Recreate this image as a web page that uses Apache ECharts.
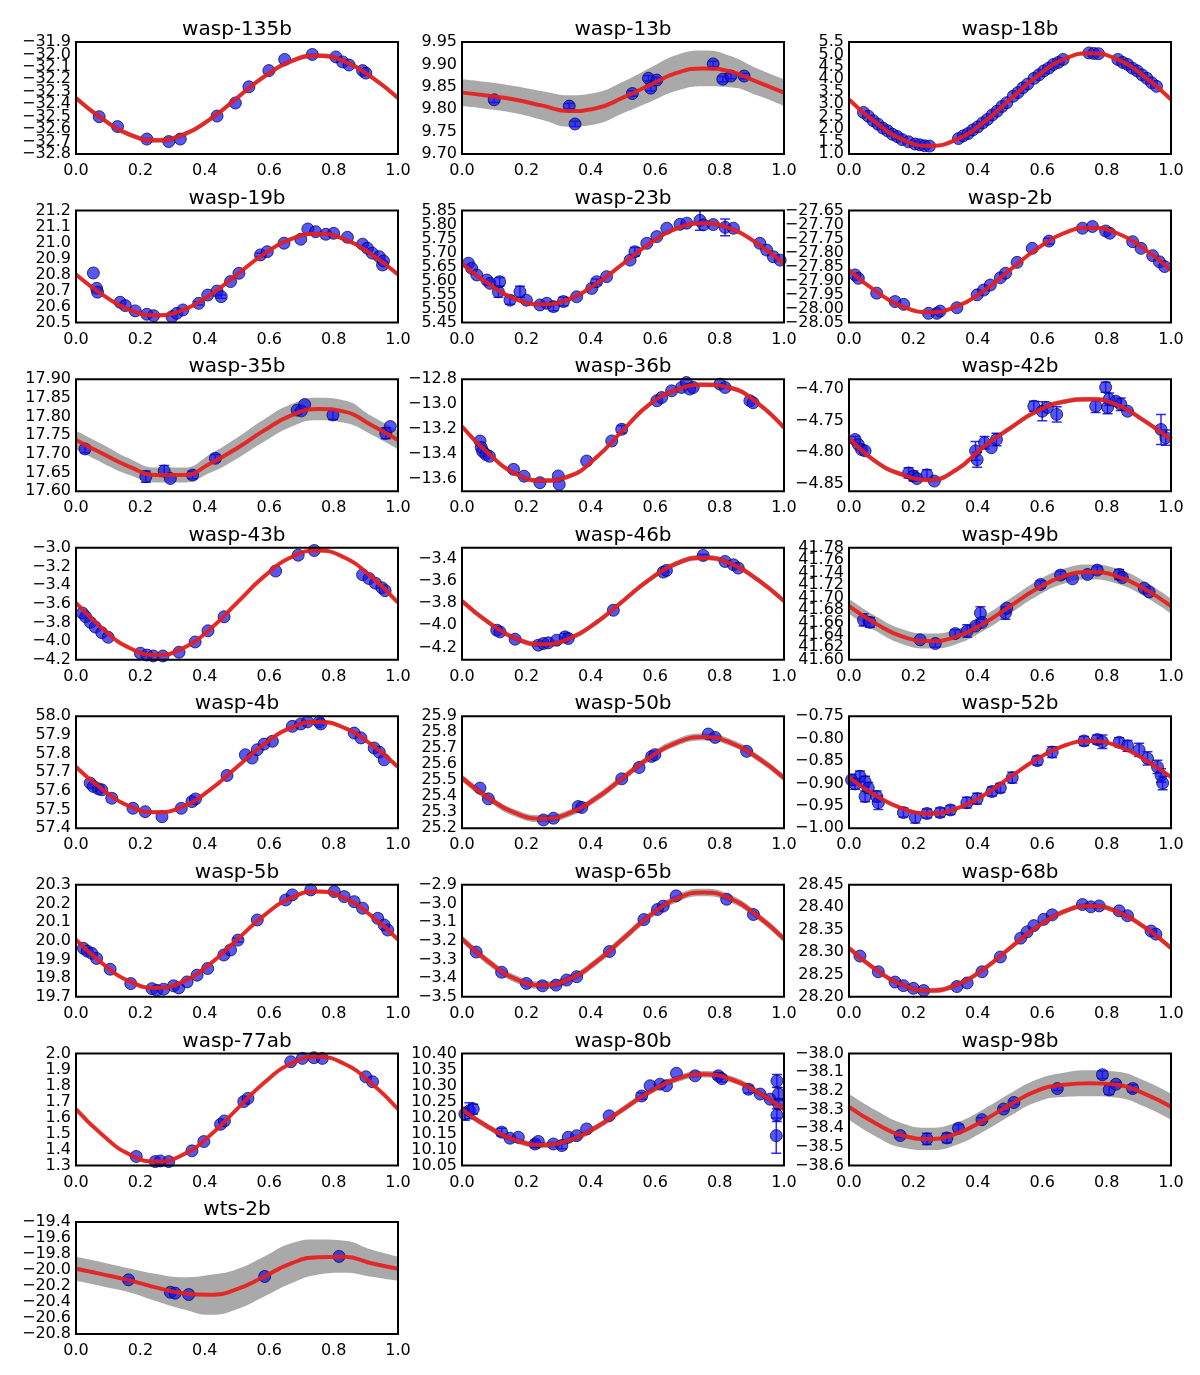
<!DOCTYPE html>
<html>
<head>
<meta charset="utf-8">
<script src="https://cdn.jsdelivr.net/npm/echarts@6/dist/echarts.min.js"></script>
<style>
  html, body { margin: 0; padding: 0; background: #fff; }
  #phase-curves { width: 1200px; height: 1375px; }
</style>
</head>
<body>
<div id="phase-curves"></div>
<script>
// Phase curves: model (red), posterior draws (grey band), observations (blue)
const plotNames = [
  "wasp-135b", "wasp-13b", "wasp-18b",
  "wasp-19b", "wasp-23b", "wasp-2b",
  "wasp-35b", "wasp-36b", "wasp-42b",
  "wasp-43b", "wasp-46b", "wasp-49b",
  "wasp-4b", "wasp-50b", "wasp-52b",
  "wasp-5b", "wasp-65b", "wasp-68b",
  "wasp-77ab", "wasp-80b", "wasp-98b",
  "wts-2b"
];

const yLimits = [
  [-32.8, -31.9], [9.70, 9.95], [1.0, 5.5],
  [20.5, 21.2], [5.45, 5.85], [-28.05, -27.65],
  [17.60, 17.90], [-13.70, -12.80], [-4.862, -4.684],
  [-4.2, -3.0], [-4.31, -3.30], [41.60, 41.78],
  [57.4, 58.0], [25.2, 25.9], [-1.00, -0.75],
  [19.7, 20.3], [-3.5, -2.9], [28.20, 28.45],
  [1.3, 2.0], [10.05, 10.40], [-38.6, -38.0],
  [-20.8, -19.4]
];

const yTicks = [
  [-32.8, -32.7, -32.6, -32.5, -32.4, -32.3, -32.2, -32.1, -32.0, -31.9],
  [9.70, 9.75, 9.80, 9.85, 9.90, 9.95],
  [1.0, 1.5, 2.0, 2.5, 3.0, 3.5, 4.0, 4.5, 5.0, 5.5],
  [20.5, 20.6, 20.7, 20.8, 20.9, 21.0, 21.1, 21.2],
  [5.45, 5.50, 5.55, 5.60, 5.65, 5.70, 5.75, 5.80, 5.85],
  [-28.05, -28.00, -27.95, -27.90, -27.85, -27.80, -27.75, -27.70, -27.65],
  [17.60, 17.65, 17.70, 17.75, 17.80, 17.85, 17.90],
  [-13.6, -13.4, -13.2, -13.0, -12.8],
  [-4.85, -4.80, -4.75, -4.70],
  [-4.2, -4.0, -3.8, -3.6, -3.4, -3.2, -3.0],
  [-4.2, -4.0, -3.8, -3.6, -3.4],
  [41.60, 41.62, 41.64, 41.66, 41.68, 41.70, 41.72, 41.74, 41.76, 41.78],
  [57.4, 57.5, 57.6, 57.7, 57.8, 57.9, 58.0],
  [25.2, 25.3, 25.4, 25.5, 25.6, 25.7, 25.8, 25.9],
  [-1.00, -0.95, -0.90, -0.85, -0.80, -0.75],
  [19.7, 19.8, 19.9, 20.0, 20.1, 20.2, 20.3],
  [-3.5, -3.4, -3.3, -3.2, -3.1, -3.0, -2.9],
  [28.20, 28.25, 28.30, 28.35, 28.40, 28.45],
  [1.3, 1.4, 1.5, 1.6, 1.7, 1.8, 1.9, 2.0],
  [10.05, 10.10, 10.15, 10.20, 10.25, 10.30, 10.35, 10.40],
  [-38.6, -38.5, -38.4, -38.3, -38.2, -38.1, -38.0],
  [-20.8, -20.6, -20.4, -20.2, -20.0, -19.8, -19.6, -19.4]
];

const yDecimals = [1, 2, 1, 1, 2, 2, 2, 1, 2, 1, 1, 2, 1, 1, 2, 1, 1, 2, 1, 2, 1, 1];

const xTicks = [0, 0.2, 0.4, 0.6, 0.8, 1.0];
const phaseGrid = [0, 0.0833, 0.1667, 0.25, 0.3333, 0.4167, 0.5, 0.5833, 0.6667, 0.75, 0.8333, 0.9167, 1.0];

// red model curve, sampled on phaseGrid
const modelCurves = [
  [-32.35, -32.52, -32.644, -32.69, -32.644, -32.52, -32.35, -32.18, -32.056, -32.01, -32.056, -32.18, -32.35],
  [9.837, 9.830, 9.821, 9.808, 9.796, 9.802, 9.826, 9.854, 9.881, 9.891, 9.884, 9.861, 9.837],
  [3.19, 2.26, 1.579, 1.33, 1.579, 2.26, 3.19, 4.12, 4.801, 5.05, 4.801, 4.12, 3.19],
  [20.80, 20.673, 20.579, 20.545, 20.579, 20.673, 20.80, 20.928, 21.021, 21.055, 21.021, 20.928, 20.80],
  [5.66, 5.588, 5.534, 5.515, 5.534, 5.588, 5.66, 5.733, 5.786, 5.805, 5.786, 5.733, 5.66],
  [-27.862, -27.938, -27.993, -28.013, -27.993, -27.938, -27.862, -27.787, -27.731, -27.711, -27.731, -27.787, -27.862],
  [17.737, 17.70, 17.665, 17.643, 17.643, 17.674, 17.715, 17.762, 17.802, 17.82, 17.813, 17.777, 17.737],
  [-13.18, -13.40, -13.56, -13.615, -13.58, -13.43, -13.21, -13.00, -12.885, -12.845, -12.87, -12.99, -13.19],
  [-4.777, -4.815, -4.836, -4.844, -4.828, -4.792, -4.762, -4.735, -4.720, -4.716, -4.725, -4.750, -4.780],
  [-3.59, -3.87, -4.075, -4.15, -4.075, -3.87, -3.59, -3.31, -3.105, -3.03, -3.105, -3.31, -3.59],
  [-3.78, -3.975, -4.118, -4.17, -4.118, -3.975, -3.78, -3.585, -3.442, -3.39, -3.442, -3.585, -3.78],
  [41.686, 41.658, 41.637, 41.630, 41.637, 41.658, 41.686, 41.714, 41.734, 41.741, 41.734, 41.714, 41.686],
  [57.728, 57.607, 57.518, 57.486, 57.518, 57.607, 57.728, 57.849, 57.938, 57.97, 57.938, 57.849, 57.728],
  [25.515, 25.388, 25.294, 25.26, 25.294, 25.388, 25.515, 25.643, 25.736, 25.77, 25.736, 25.643, 25.515],
  [-0.886, -0.927, -0.956, -0.967, -0.956, -0.927, -0.886, -0.846, -0.816, -0.805, -0.816, -0.846, -0.886],
  [20.006, 19.877, 19.783, 19.748, 19.783, 19.877, 20.006, 20.135, 20.229, 20.264, 20.229, 20.135, 20.006],
  [-3.189, -3.313, -3.404, -3.437, -3.404, -3.313, -3.189, -3.065, -2.974, -2.941, -2.974, -3.065, -3.189],
  [28.309, 28.261, 28.227, 28.214, 28.227, 28.261, 28.309, 28.356, 28.390, 28.403, 28.390, 28.356, 28.309],
  [1.652, 1.488, 1.368, 1.324, 1.368, 1.488, 1.652, 1.815, 1.935, 1.979, 1.935, 1.815, 1.652],
  [10.225, 10.169, 10.129, 10.114, 10.129, 10.169, 10.225, 10.280, 10.320, 10.335, 10.320, 10.280, 10.225],
  [-38.286, -38.375, -38.44, -38.458, -38.43, -38.36, -38.275, -38.20, -38.168, -38.16, -38.168, -38.215, -38.286],
  [-19.985, -20.055, -20.13, -20.22, -20.29, -20.31, -20.24, -20.085, -19.92, -19.84, -19.835, -19.915, -19.985]
];

// half-width of the grey band of posterior draws, sampled on phaseGrid
const drawSpread = [
  [0.02, 0.02, 0.02, 0.02, 0.02, 0.02, 0.02, 0.02, 0.02, 0.02, 0.02, 0.02, 0.02],
  [0.03, 0.03, 0.03, 0.032, 0.035, 0.035, 0.035, 0.038, 0.04, 0.04, 0.035, 0.03, 0.03],
  [0.07, 0.07, 0.07, 0.07, 0.07, 0.07, 0.07, 0.07, 0.07, 0.07, 0.07, 0.07, 0.07],
  [0.012, 0.012, 0.012, 0.012, 0.012, 0.012, 0.012, 0.012, 0.012, 0.012, 0.012, 0.012, 0.012],
  [0.008, 0.008, 0.008, 0.008, 0.008, 0.008, 0.008, 0.008, 0.008, 0.008, 0.008, 0.008, 0.008],
  [0.006, 0.006, 0.006, 0.006, 0.006, 0.006, 0.006, 0.006, 0.006, 0.006, 0.006, 0.006, 0.006],
  [0.025, 0.025, 0.022, 0.02, 0.02, 0.025, 0.028, 0.03, 0.03, 0.03, 0.03, 0.025, 0.025],
  [0.02, 0.02, 0.02, 0.02, 0.02, 0.02, 0.02, 0.02, 0.02, 0.02, 0.02, 0.02, 0.02],
  [0.004, 0.004, 0.004, 0.004, 0.004, 0.004, 0.004, 0.004, 0.004, 0.004, 0.004, 0.004, 0.004],
  [0.015, 0.015, 0.015, 0.015, 0.015, 0.015, 0.015, 0.015, 0.015, 0.015, 0.015, 0.015, 0.015],
  [0.025, 0.025, 0.025, 0.025, 0.025, 0.025, 0.025, 0.025, 0.025, 0.025, 0.025, 0.025, 0.025],
  [0.012, 0.012, 0.012, 0.012, 0.012, 0.012, 0.012, 0.012, 0.012, 0.012, 0.012, 0.012, 0.012],
  [0.01, 0.01, 0.01, 0.01, 0.01, 0.01, 0.01, 0.01, 0.01, 0.01, 0.01, 0.01, 0.01],
  [0.022, 0.022, 0.022, 0.022, 0.022, 0.022, 0.022, 0.022, 0.022, 0.022, 0.022, 0.022, 0.022],
  [0.004, 0.004, 0.004, 0.004, 0.004, 0.004, 0.004, 0.004, 0.004, 0.004, 0.004, 0.004, 0.004],
  [0.01, 0.01, 0.01, 0.01, 0.01, 0.01, 0.01, 0.01, 0.01, 0.01, 0.01, 0.01, 0.01],
  [0.02, 0.02, 0.02, 0.02, 0.02, 0.02, 0.02, 0.02, 0.02, 0.02, 0.02, 0.02, 0.02],
  [0.006, 0.006, 0.006, 0.006, 0.006, 0.006, 0.006, 0.006, 0.006, 0.006, 0.006, 0.006, 0.006],
  [0.01, 0.01, 0.01, 0.01, 0.01, 0.01, 0.01, 0.01, 0.01, 0.01, 0.01, 0.01, 0.01],
  [0.01, 0.01, 0.01, 0.01, 0.01, 0.01, 0.01, 0.01, 0.01, 0.01, 0.01, 0.01, 0.01],
  [0.07, 0.07, 0.065, 0.06, 0.06, 0.06, 0.06, 0.06, 0.065, 0.07, 0.07, 0.07, 0.07],
  [0.15, 0.15, 0.15, 0.17, 0.2, 0.25, 0.25, 0.25, 0.25, 0.22, 0.2, 0.17, 0.15]
];

// observations: [phase, value, error]
const obsWasp135b = [[0.072, -32.50], [0.129, -32.58], [0.22, -32.68], [0.288, -32.70], [0.324, -32.68],
  [0.438, -32.495], [0.495, -32.39], [0.537, -32.26], [0.599, -32.13], [0.648, -32.04], [0.734, -32.0],
  [0.807, -32.02], [0.828, -32.06], [0.848, -32.085], [0.89, -32.13], [0.90, -32.15]];
const obsWasp13b = [[0.10, 9.821, 0.006], [0.333, 9.807, 0.006], [0.351, 9.767, 0.006], [0.529, 9.835, 0.006],
  [0.579, 9.869, 0.006], [0.586, 9.847, 0.006], [0.605, 9.865, 0.006], [0.78, 9.901, 0.006],
  [0.81, 9.867, 0.006], [0.835, 9.874, 0.006], [0.876, 9.874, 0.006]];
const obsWasp18b = [[0.045, 2.67], [0.06, 2.52], [0.075, 2.34], [0.09, 2.20], [0.105, 2.04], [0.12, 1.93],
  [0.135, 1.79], [0.15, 1.70], [0.165, 1.58], [0.185, 1.49], [0.205, 1.40], [0.22, 1.37], [0.235, 1.33],
  [0.25, 1.32], [0.34, 1.62], [0.355, 1.73], [0.37, 1.82], [0.385, 1.97], [0.40, 2.09], [0.415, 2.25],
  [0.43, 2.39], [0.445, 2.57], [0.46, 2.72], [0.475, 2.91], [0.49, 3.06], [0.51, 3.32], [0.525, 3.47],
  [0.54, 3.66], [0.555, 3.81], [0.575, 4.04], [0.59, 4.18], [0.605, 4.34], [0.62, 4.45], [0.635, 4.60],
  [0.65, 4.68], [0.665, 4.80], [0.745, 5.06], [0.76, 5.04], [0.775, 5.03], [0.835, 4.80], [0.85, 4.68],
  [0.865, 4.60], [0.88, 4.45], [0.895, 4.34], [0.91, 4.18], [0.925, 4.04], [0.94, 3.86], [0.955, 3.72]];
const obsWasp19b = [[0.054, 20.81], [0.064, 20.714], [0.067, 20.69], [0.137, 20.627], [0.153, 20.606],
  [0.184, 20.573], [0.22, 20.552], [0.241, 20.543], [0.298, 20.537], [0.313, 20.558], [0.332, 20.579],
  [0.381, 20.62, 0.01], [0.409, 20.672], [0.438, 20.697], [0.451, 20.662, 0.01], [0.48, 20.756], [0.506, 20.808],
  [0.573, 20.923, 0.01], [0.594, 20.943], [0.646, 20.996], [0.698, 21.021], [0.72, 21.085], [0.744, 21.068],
  [0.776, 21.052], [0.80, 21.058], [0.843, 21.033], [0.89, 20.99], [0.905, 20.965], [0.92, 20.934],
  [0.942, 20.912], [0.952, 20.86], [0.955, 20.885]];
const obsWasp23b = [[0.02, 5.662], [0.03, 5.644], [0.046, 5.62], [0.077, 5.602], [0.087, 5.59],
  [0.113, 5.56, 0.02], [0.117, 5.596, 0.015], [0.149, 5.53, 0.015], [0.18, 5.56, 0.02], [0.20, 5.53],
  [0.242, 5.513], [0.263, 5.519], [0.284, 5.507, 0.015], [0.315, 5.525, 0.015], [0.356, 5.542],
  [0.403, 5.572], [0.418, 5.596, 0.01], [0.449, 5.614], [0.522, 5.673], [0.537, 5.703, 0.015],
  [0.574, 5.733], [0.605, 5.757], [0.636, 5.787], [0.677, 5.801], [0.698, 5.805], [0.739, 5.815, 0.035],
  [0.75, 5.799], [0.78, 5.80], [0.817, 5.79, 0.03], [0.843, 5.787], [0.925, 5.733], [0.946, 5.709],
  [0.967, 5.685], [0.988, 5.673]];
const obsWasp2b = [[0.019, -27.88], [0.029, -27.892], [0.086, -27.945], [0.143, -27.975], [0.17, -27.985],
  [0.247, -28.017], [0.273, -28.017], [0.283, -28.009], [0.335, -27.997], [0.398, -27.951], [0.418, -27.934],
  [0.439, -27.916], [0.47, -27.89], [0.486, -27.874], [0.522, -27.835], [0.569, -27.785], [0.621, -27.759, 0.01],
  [0.725, -27.713], [0.756, -27.707], [0.797, -27.723], [0.81, -27.731], [0.881, -27.761], [0.907, -27.785],
  [0.943, -27.811], [0.964, -27.833], [0.98, -27.85]];
const obsWasp35b = [[0.028, 17.713, 0.01], [0.217, 17.639, 0.015], [0.274, 17.654, 0.015], [0.293, 17.634],
  [0.362, 17.643, 0.01], [0.433, 17.688, 0.01], [0.687, 17.817], [0.70, 17.815], [0.71, 17.832],
  [0.798, 17.804, 0.012], [0.962, 17.755, 0.015], [0.976, 17.773]];
const obsWasp36b = [[0.056, -13.297], [0.06, -13.35], [0.064, -13.38], [0.074, -13.405], [0.085, -13.42],
  [0.16, -13.525], [0.193, -13.58], [0.242, -13.632], [0.299, -13.578], [0.302, -13.646], [0.387, -13.458],
  [0.465, -13.297], [0.496, -13.203, 0.03], [0.605, -12.974], [0.62, -12.948], [0.651, -12.894],
  [0.682, -12.867], [0.697, -12.827], [0.707, -12.88], [0.718, -12.867], [0.801, -12.84], [0.817, -12.867],
  [0.894, -12.974], [0.904, -12.99]];
const obsWasp42b = [[0.019, -4.78, 0.005], [0.029, -4.788], [0.039, -4.796], [0.05, -4.798], [0.185, -4.833, 0.008],
  [0.20, -4.838, 0.008], [0.211, -4.842], [0.242, -4.836, 0.008], [0.265, -4.846], [0.393, -4.798, 0.015],
  [0.398, -4.812, 0.012], [0.421, -4.785, 0.01], [0.442, -4.793], [0.458, -4.78, 0.01], [0.574, -4.727, 0.008],
  [0.60, -4.735, 0.015], [0.616, -4.729], [0.645, -4.74, 0.012], [0.766, -4.727, 0.01], [0.797, -4.697, 0.008],
  [0.803, -4.729, 0.01], [0.808, -4.716, 0.01], [0.829, -4.719], [0.844, -4.724, 0.01], [0.865, -4.735],
  [0.969, -4.764, 0.024], [0.984, -4.777, 0.012]];
const obsWasp43b = [[0.02, -3.70], [0.03, -3.74], [0.045, -3.80], [0.06, -3.85], [0.08, -3.91], [0.10, -3.96],
  [0.20, -4.13], [0.22, -4.15], [0.24, -4.16], [0.27, -4.16], [0.32, -4.12], [0.37, -4.01], [0.41, -3.89],
  [0.46, -3.74], [0.62, -3.25], [0.69, -3.08], [0.74, -3.03], [0.89, -3.29], [0.91, -3.33], [0.93, -3.38],
  [0.95, -3.43], [0.96, -3.46]];
const obsWasp46b = [[0.108, -4.044], [0.118, -4.059], [0.165, -4.125], [0.237, -4.179], [0.253, -4.164],
  [0.268, -4.158], [0.294, -4.134], [0.32, -4.104, 0.03], [0.33, -4.119], [0.47, -3.864], [0.625, -3.52],
  [0.635, -3.505], [0.749, -3.37, 0.01], [0.817, -3.424], [0.843, -3.454], [0.858, -3.484]];
const obsWasp49b = [[0.045, 41.664, 0.01], [0.065, 41.66, 0.008], [0.221, 41.632], [0.268, 41.626, 0.006],
  [0.33, 41.642, 0.006], [0.367, 41.646, 0.01], [0.393, 41.654], [0.408, 41.675, 0.01], [0.413, 41.66],
  [0.486, 41.675, 0.01], [0.49, 41.683], [0.595, 41.721, 0.006], [0.657, 41.736, 0.006], [0.694, 41.73],
  [0.741, 41.737], [0.771, 41.744, 0.006], [0.839, 41.737, 0.008], [0.849, 41.732], [0.917, 41.715],
  [0.932, 41.709]];
const obsWasp4b = [[0.044, 57.642], [0.054, 57.624], [0.07, 57.611], [0.08, 57.606], [0.111, 57.561],
  [0.177, 57.507], [0.215, 57.489], [0.267, 57.462], [0.327, 57.507], [0.36, 57.543], [0.371, 57.557],
  [0.469, 57.683], [0.526, 57.794], [0.547, 57.776], [0.563, 57.821], [0.584, 57.851], [0.61, 57.866],
  [0.672, 57.946], [0.698, 57.959], [0.719, 57.97], [0.755, 57.97], [0.76, 57.959], [0.864, 57.91],
  [0.885, 57.884], [0.926, 57.83], [0.942, 57.808], [0.957, 57.767]];
const obsWasp50b = [[0.056, 25.451], [0.082, 25.384], [0.253, 25.252], [0.284, 25.263], [0.361, 25.336],
  [0.372, 25.33], [0.496, 25.509], [0.55, 25.58], [0.589, 25.649], [0.599, 25.66], [0.765, 25.789],
  [0.786, 25.768], [0.884, 25.681]];
const obsWasp52b = [[0.008, -0.892, 0.012], [0.019, -0.901, 0.012], [0.034, -0.884, 0.012], [0.05, -0.896, 0.012],
  [0.05, -0.929, 0.012], [0.06, -0.91, 0.012], [0.086, -0.929, 0.012], [0.091, -0.943, 0.015],
  [0.169, -0.965, 0.01], [0.206, -0.976, 0.012], [0.242, -0.967, 0.01], [0.283, -0.965, 0.01],
  [0.315, -0.959, 0.01], [0.366, -0.943, 0.012], [0.398, -0.934, 0.012], [0.444, -0.918, 0.01],
  [0.47, -0.91, 0.01], [0.507, -0.887, 0.012], [0.585, -0.849, 0.01], [0.631, -0.83, 0.012],
  [0.73, -0.805, 0.01], [0.771, -0.802, 0.01], [0.787, -0.807, 0.015], [0.839, -0.808, 0.01],
  [0.865, -0.816, 0.012], [0.901, -0.825, 0.015], [0.927, -0.844, 0.015], [0.958, -0.863, 0.015],
  [0.969, -0.882, 0.015], [0.974, -0.899, 0.015]];
const obsWasp5b = [[0.023, 19.96], [0.035, 19.945], [0.049, 19.933], [0.064, 19.906], [0.106, 19.848],
  [0.17, 19.771], [0.236, 19.744], [0.251, 19.735], [0.272, 19.741], [0.303, 19.759], [0.319, 19.748],
  [0.345, 19.78], [0.376, 19.816], [0.409, 19.852], [0.459, 19.924], [0.48, 19.951], [0.503, 20.004, 0.01],
  [0.563, 20.112], [0.651, 20.219], [0.672, 20.246], [0.729, 20.273], [0.802, 20.264], [0.833, 20.237],
  [0.864, 20.21], [0.89, 20.175], [0.937, 20.121], [0.957, 20.085], [0.968, 20.058]];
const obsWasp65b = [[0.044, -3.26], [0.123, -3.368], [0.20, -3.428], [0.25, -3.441], [0.292, -3.437],
  [0.325, -3.41], [0.356, -3.392], [0.458, -3.257], [0.565, -3.086], [0.607, -3.032], [0.625, -3.014],
  [0.665, -2.959], [0.822, -2.977], [0.905, -3.059]];
const obsWasp68b = [[0.034, 28.291], [0.091, 28.256], [0.143, 28.233], [0.169, 28.225], [0.20, 28.219],
  [0.232, 28.214], [0.335, 28.223], [0.367, 28.231], [0.413, 28.256], [0.47, 28.289], [0.533, 28.331],
  [0.553, 28.345], [0.574, 28.359], [0.605, 28.373], [0.631, 28.383], [0.725, 28.406], [0.751, 28.401],
  [0.777, 28.403], [0.839, 28.392], [0.865, 28.381], [0.938, 28.347], [0.953, 28.34]];
const obsWasp77ab = [[0.187, 1.356], [0.246, 1.324], [0.262, 1.328], [0.288, 1.324], [0.36, 1.391],
  [0.397, 1.449], [0.449, 1.557], [0.461, 1.578], [0.521, 1.699], [0.534, 1.719], [0.667, 1.948],
  [0.703, 1.969], [0.739, 1.973], [0.765, 1.969], [0.90, 1.854], [0.921, 1.823]];
const obsWasp80b = [[0.009, 10.211, 0.02], [0.023, 10.221, 0.025], [0.035, 10.226, 0.015], [0.123, 10.154, 0.012],
  [0.149, 10.135], [0.175, 10.138], [0.227, 10.117, 0.012], [0.237, 10.125], [0.284, 10.117],
  [0.31, 10.112, 0.01], [0.33, 10.138], [0.356, 10.143], [0.387, 10.164], [0.457, 10.205],
  [0.558, 10.267, 0.01], [0.584, 10.299], [0.615, 10.304], [0.635, 10.299], [0.666, 10.338], [0.724, 10.33],
  [0.796, 10.33, 0.01], [0.807, 10.321, 0.01], [0.89, 10.288, 0.012], [0.926, 10.273], [0.957, 10.257],
  [0.978, 10.314, 0.02], [0.983, 10.273, 0.02], [0.978, 10.207, 0.02], [0.976, 10.143, 0.055],
  [0.983, 10.242, 0.015]];
const obsWasp98b = [[0.159, -38.44, 0.01], [0.242, -38.458, 0.03], [0.304, -38.453, 0.025], [0.34, -38.401, 0.02],
  [0.413, -38.355, 0.01], [0.48, -38.298, 0.01], [0.512, -38.263, 0.01], [0.647, -38.188, 0.01],
  [0.787, -38.114, 0.02], [0.808, -38.195, 0.025], [0.829, -38.165, 0.01], [0.881, -38.188, 0.02]];
const obsWts2b = [[0.163, -20.123, 0.02], [0.293, -20.278], [0.308, -20.29], [0.35, -20.307],
  [0.586, -20.081], [0.817, -19.83]];

const observations = [
  obsWasp135b, obsWasp13b, obsWasp18b, obsWasp19b, obsWasp23b, obsWasp2b, obsWasp35b, obsWasp36b,
  obsWasp42b, obsWasp43b, obsWasp46b, obsWasp49b, obsWasp4b, obsWasp50b, obsWasp52b, obsWasp5b,
  obsWasp65b, obsWasp68b, obsWasp77ab, obsWasp80b, obsWasp98b, obsWts2b
];

(function() {
  const colLeft = [76, 462, 849];
  const gridW = 322;
  const gridH = 112;
  const firstTop = 42;
  const rowStep = 168.57;

  const font = "DejaVu Sans";
  const bandColor = "#a9a9a9";
  const redColor = "rgba(232, 30, 28, 0.92)";
  const blue = "rgba(16, 16, 240, 0.88)";

  const fmt = (v, d) => v.toFixed(d).replace("-", "\u2212");

  const grids = [], xAxes = [], yAxes = [], titles = [], series = [];

  const yAxisFor = (i, ticks) => ({
    gridIndex: i, type: "value", position: "left", offset: 0,
    min: yLimits[i][0], max: yLimits[i][1],
    axisLine: { show: false }, axisTick: { show: false }, splitLine: { show: false },
    axisLabel: {
      customValues: ticks, showMinLabel: true, showMaxLabel: true, hideOverlap: false,
      fontFamily: font, fontSize: 16, color: "#000", margin: 5,
      formatter: (v) => fmt(v, yDecimals[i])
    }
  });

  plotNames.forEach((name, i) => {
    const left = colLeft[i % 3];
    const top = firstTop + Math.floor(i / 3) * rowStep;
    const curve = modelCurves[i];
    const spread = drawSpread[i];
    const obs = observations[i];
    const yi = 2 * i;

    grids.push({
      left: left, top: top, width: gridW, height: gridH,
      containLabel: false, outerBoundsMode: "none",
      show: true, borderColor: "#000", borderWidth: 2,
      backgroundColor: "transparent", z: 10
    });

    xAxes.push({
      gridIndex: i, type: "value", min: 0, max: 1, interval: 0.2,
      axisLine: { show: false }, axisTick: { show: false }, splitLine: { show: false },
      axisLabel: {
        customValues: xTicks, showMinLabel: true, showMaxLabel: true,
        fontFamily: font, fontSize: 16, color: "#000", margin: 9,
        formatter: (v) => v.toFixed(1)
      }
    });

    // crowded tick labels: split over two overlaid left axes so none get dropped
    yAxes.push(yAxisFor(i, yTicks[i].filter((t, k) => k % 2 === 0)));
    yAxes.push(yAxisFor(i, yTicks[i].filter((t, k) => k % 2 === 1)));

    titles.push({
      text: name, left: left + gridW / 2, top: top - 22, textAlign: "center", padding: 0,
      textStyle: { fontFamily: font, fontSize: 20, fontWeight: "normal", color: "#000" }
    });

    // grey band of posterior draws: grey fill under the upper edge,
    // then white fill under the lower edge
    series.push({
      type: "line", xAxisIndex: i, yAxisIndex: yi,
      data: phaseGrid.map((p, k) => [p, curve[k] + spread[k]]),
      smooth: true, symbol: "none", silent: true, z: 1,
      lineStyle: { width: 0, opacity: 0 },
      areaStyle: { color: bandColor, opacity: 1, origin: "start" }
    });
    series.push({
      type: "line", xAxisIndex: i, yAxisIndex: yi,
      data: phaseGrid.map((p, k) => [p, curve[k] - spread[k]]),
      smooth: true, symbol: "none", silent: true, z: 2,
      lineStyle: { width: 0, opacity: 0 },
      areaStyle: { color: "#fff", opacity: 1, origin: "start" }
    });

    // error bars
    series.push({
      type: "custom", xAxisIndex: i, yAxisIndex: yi, silent: true, z: 3, clip: true,
      data: obs.filter((o) => o.length > 2),
      encode: { x: 0, y: 1 },
      renderItem: (params, api) => {
        const x = api.value(0), y = api.value(1), e = api.value(2);
        const a = api.coord([x, y + e]);
        const b = api.coord([x, y - e]);
        const st = { stroke: blue, lineWidth: 1.5 };
        return {
          type: "group",
          children: [
            { type: "line", shape: { x1: a[0], y1: a[1], x2: b[0], y2: b[1] }, style: st },
            { type: "line", shape: { x1: a[0] - 5, y1: a[1], x2: a[0] + 5, y2: a[1] }, style: st },
            { type: "line", shape: { x1: b[0] - 5, y1: b[1], x2: b[0] + 5, y2: b[1] }, style: st }
          ]
        };
      }
    });

    // observations
    series.push({
      type: "scatter", xAxisIndex: i, yAxisIndex: yi, silent: true, z: 4,
      data: obs.map((o) => [o[0], o[1]]),
      symbolSize: 12,
      itemStyle: { color: blue, borderColor: "rgba(0, 0, 60, 0.9)", borderWidth: 1 }
    });

    // model curve on top
    series.push({
      type: "line", xAxisIndex: i, yAxisIndex: yi,
      data: phaseGrid.map((p, k) => [p, curve[k]]),
      smooth: true, symbol: "none", silent: true, z: 5,
      lineStyle: { color: redColor, width: 4 }
    });
  });

  const option = {
    animation: false,
    backgroundColor: "#fff",
    title: titles,
    grid: grids,
    xAxis: xAxes,
    yAxis: yAxes,
    series: series
  };

  const chart = echarts.init(document.getElementById("phase-curves"));
  chart.setOption(option);
  window.addEventListener("resize", () => chart.resize());
})();
</script>
</body>
</html>
